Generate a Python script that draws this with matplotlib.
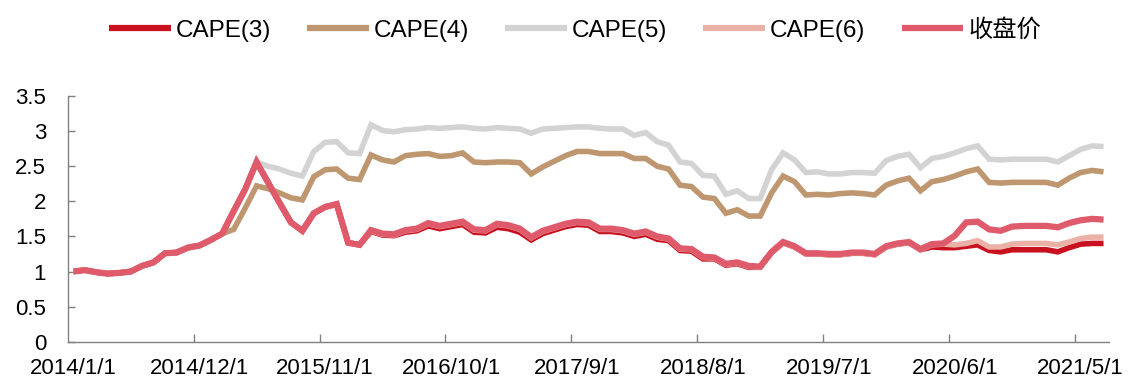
#!/usr/bin/env python3
"""CAPE strategy curves vs close price, monthly 2014/1 - 2021/7"""

import numpy as np
import matplotlib
matplotlib.use('Agg')
import matplotlib.pyplot as plt

plt.rcParams['font.family'] = ['Liberation Sans', 'Noto Sans CJK SC', 'DejaVu Sans']

# Monthly data, 2014/1/1 .. 2021/7/1 (91 months)
tick_pos = [0, 11, 22, 33, 44, 55, 66, 77, 88]
tick_labels = ['2014/1/1', '2014/12/1', '2015/11/1', '2016/10/1', '2017/9/1',
               '2018/8/1', '2019/7/1', '2020/6/1', '2021/5/1']

close = [1.00, 1.02, 0.99, 0.97, 0.98, 1.00, 1.08, 1.13, 1.26, 1.27, 1.34, 1.37, 1.45,
         1.54, 1.86, 2.17, 2.56, 2.27, 1.98, 1.70, 1.58, 1.83, 1.92, 1.96, 1.41, 1.38,
         1.59, 1.54, 1.53, 1.59, 1.61, 1.69, 1.65, 1.68, 1.71, 1.60, 1.59, 1.68, 1.66,
         1.61, 1.49, 1.58, 1.63, 1.68, 1.71, 1.70, 1.61, 1.61, 1.59, 1.54, 1.57, 1.50,
         1.47, 1.33, 1.32, 1.21, 1.20, 1.11, 1.13, 1.08, 1.07, 1.28, 1.42, 1.36, 1.26,
         1.26, 1.25, 1.25, 1.27, 1.27, 1.25, 1.36, 1.40, 1.42, 1.32, 1.39, 1.40, 1.51,
         1.70, 1.71, 1.60, 1.58, 1.64, 1.65, 1.65, 1.65, 1.63, 1.69, 1.73, 1.75, 1.74]

cape3 = [1.00, 1.02, 0.99, 0.97, 0.98, 1.00, 1.08, 1.13, 1.26, 1.27, 1.34, 1.37, 1.45,
         1.54, 1.86, 2.17, 2.56, 2.27, 1.98, 1.70, 1.58, 1.83, 1.92, 1.96, 1.41, 1.38,
         1.57, 1.52, 1.51, 1.56, 1.58, 1.65, 1.61, 1.64, 1.67, 1.56, 1.55, 1.63, 1.61,
         1.56, 1.45, 1.54, 1.59, 1.64, 1.67, 1.66, 1.57, 1.57, 1.55, 1.50, 1.53, 1.46,
         1.44, 1.30, 1.29, 1.18, 1.18, 1.09, 1.11, 1.06, 1.06, 1.27, 1.41, 1.35, 1.25,
         1.25, 1.24, 1.24, 1.26, 1.26, 1.24, 1.35, 1.39, 1.41, 1.31, 1.35, 1.34, 1.34,
         1.36, 1.38, 1.30, 1.28, 1.31, 1.31, 1.31, 1.31, 1.28, 1.34, 1.39, 1.40, 1.40]

cape4 = [1.00, 1.02, 0.99, 0.97, 0.98, 1.00, 1.08, 1.13, 1.26, 1.27, 1.34, 1.37, 1.45,
         1.54, 1.60, 1.90, 2.22, 2.18, 2.12, 2.05, 2.02, 2.35, 2.45, 2.46, 2.33, 2.31,
         2.66, 2.59, 2.56, 2.65, 2.67, 2.68, 2.64, 2.65, 2.69, 2.56, 2.55, 2.56, 2.56,
         2.55, 2.39, 2.49, 2.57, 2.65, 2.71, 2.71, 2.68, 2.68, 2.68, 2.61, 2.61, 2.50,
         2.46, 2.23, 2.21, 2.06, 2.04, 1.83, 1.88, 1.79, 1.79, 2.12, 2.36, 2.28, 2.09,
         2.10, 2.09, 2.11, 2.12, 2.11, 2.09, 2.23, 2.29, 2.33, 2.15, 2.28, 2.31, 2.36,
         2.42, 2.46, 2.27, 2.26, 2.27, 2.27, 2.27, 2.27, 2.23, 2.33, 2.41, 2.44, 2.42]

cape5 = [1.00, 1.02, 0.99, 0.97, 0.98, 1.00, 1.08, 1.13, 1.26, 1.27, 1.34, 1.37, 1.45,
         1.54, 1.86, 2.17, 2.56, 2.50, 2.46, 2.40, 2.36, 2.71, 2.84, 2.85, 2.69, 2.68,
         3.09, 3.01, 2.99, 3.02, 3.03, 3.05, 3.04, 3.05, 3.06, 3.04, 3.03, 3.05, 3.04,
         3.03, 2.97, 3.03, 3.04, 3.05, 3.06, 3.06, 3.04, 3.03, 3.03, 2.94, 2.98, 2.85,
         2.80, 2.56, 2.54, 2.37, 2.36, 2.10, 2.15, 2.04, 2.04, 2.45, 2.69, 2.59, 2.41,
         2.42, 2.39, 2.39, 2.41, 2.41, 2.40, 2.58, 2.64, 2.67, 2.48, 2.61, 2.64, 2.69,
         2.75, 2.79, 2.60, 2.59, 2.60, 2.60, 2.60, 2.60, 2.56, 2.65, 2.74, 2.79, 2.78]

cape6 = [1.00, 1.02, 0.99, 0.97, 0.98, 1.00, 1.08, 1.13, 1.26, 1.27, 1.34, 1.37, 1.45,
         1.54, 1.86, 2.17, 2.56, 2.27, 1.98, 1.70, 1.58, 1.83, 1.92, 1.96, 1.41, 1.38,
         1.58, 1.53, 1.52, 1.58, 1.60, 1.68, 1.64, 1.67, 1.70, 1.59, 1.58, 1.67, 1.65,
         1.60, 1.48, 1.57, 1.62, 1.67, 1.70, 1.69, 1.60, 1.60, 1.58, 1.53, 1.56, 1.49,
         1.46, 1.32, 1.31, 1.20, 1.19, 1.10, 1.12, 1.07, 1.06, 1.27, 1.41, 1.35, 1.25,
         1.25, 1.24, 1.24, 1.26, 1.26, 1.24, 1.35, 1.39, 1.41, 1.31, 1.38, 1.39, 1.38,
         1.40, 1.44, 1.35, 1.35, 1.39, 1.40, 1.40, 1.40, 1.38, 1.42, 1.47, 1.49, 1.49]

series = [
    ('CAPE(3)', cape3, '#C8101E', 4.0),
    ('CAPE(4)', cape4, '#BE9670', 4.0),
    ('CAPE(5)', cape5, '#D3D3D3', 4.0),
    ('CAPE(6)', cape6, '#EAB2A6', 4.0),
    ('收盘价', close, '#DF5A6B', 4.5),
]

x = np.arange(len(close))

fig = plt.figure(figsize=(11.34, 3.9), dpi=100)
ax = fig.add_axes([0.0597, 0.1238, 0.9185, 0.63])

for name, vals, color, lw in series:
    ax.plot(x, vals, color=color, linewidth=lw, label=name,
            solid_joinstyle='miter', solid_capstyle='butt')

ax.set_xlim(-0.5, len(close) - 0.5)
ax.set_ylim(0, 3.5)

# y axis
yt = [0, 0.5, 1, 1.5, 2, 2.5, 3, 3.5]
ax.set_yticks(yt)
ax.set_yticklabels(['0', '0.5', '1', '1.5', '2', '2.5', '3', '3.5'])
ax.tick_params(axis='y', direction='in', length=5, width=1, color='#808080',
               labelsize=16, pad=15.5)

# x axis: tick marks between categories, labels on categories
ax.set_xticks([p - 0.5 for p in tick_pos[1:]])
ax.set_xticklabels([])
ax.set_xticks(tick_pos, minor=True)
ax.set_xticklabels(tick_labels, minor=True)
ax.tick_params(axis='x', which='major', direction='in', length=6, width=1, color='#808080')
ax.tick_params(axis='x', which='minor', length=0, labelsize=16, pad=12)

for s in ['top', 'right']:
    ax.spines[s].set_visible(False)
for s in ['left', 'bottom']:
    ax.spines[s].set_color('#808080')
    ax.spines[s].set_linewidth(1.0)

leg = fig.legend(loc='center', bbox_to_anchor=(0.507, 0.922), ncol=5, frameon=False,
                 fontsize=17.5, handlelength=2.55, handletextpad=0.2, columnspacing=1.48)
for line in leg.get_lines():
    line.set_linewidth(4.5)

fig.savefig('out.png', dpi=100)
